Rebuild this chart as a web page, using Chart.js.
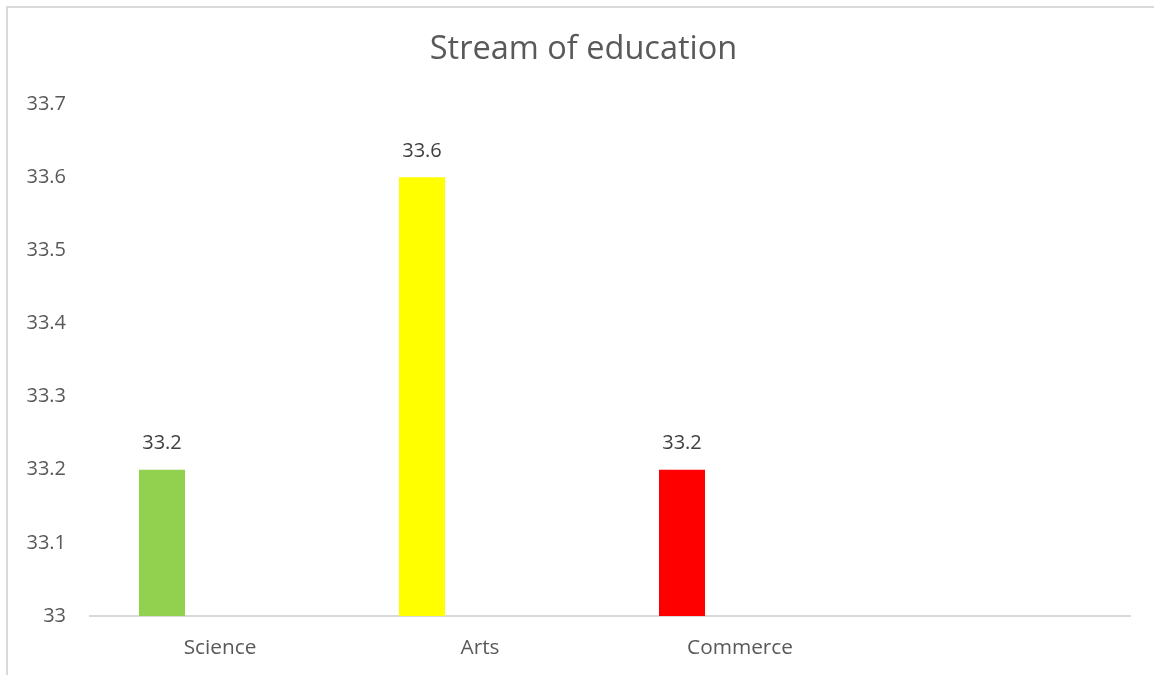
<!DOCTYPE html>
<html>
<head>
<meta charset="utf-8">
<title>Stream of education</title>
<script src="https://cdn.jsdelivr.net/npm/chart.js@4.4.1/dist/chart.umd.min.js"></script>
<style>
  html, body { margin: 0; padding: 0; background: #ffffff; overflow: hidden; }
  #frame {
    position: absolute; left: 6px; top: 6px; width: 1300px; height: 800px;
    border-left: 2px solid #d9d9d9; border-top: 2px solid #d9d9d9;
  }
  #wrap { position: absolute; left: 0; top: 0; width: 1154px; height: 675px; }
</style>
</head>
<body>
<div id="frame"></div>
<div id="wrap"><canvas id="chart" width="1154" height="675"></canvas></div>
<script>
// Streams on the category axis (the fourth slot is an empty category)
const categories = ['Science', 'Arts', 'Commerce', ''];
// Average score per stream
const streamValues = [33.2, 33.6, 33.2, null];
// Second series of the sheet, left blank
const emptySeries = [null, null, null, null];
const barColors = ['#92d050', '#ffff00', '#ff0000', '#ffffff'];
const yTickLabels = ['33', '33.1', '33.2', '33.3', '33.4', '33.5', '33.6', '33.7'];
const chartTitle = 'Stream of education';

const FONT = "'Open Sans', 'Liberation Sans', sans-serif";

// Chart heading, centred over the whole chart frame
const frameTitle = {
  id: 'frameTitle',
  afterDraw(chart) {
    const ctx = chart.ctx;
    ctx.save();
    ctx.font = '32.5px ' + FONT;
    ctx.fillStyle = '#595959';
    ctx.textAlign = 'center';
    ctx.textBaseline = 'middle';
    ctx.fillText(chartTitle, 583.5, 50);
    ctx.restore();
  }
};

// Writes each bar's value just above the bar
const valueLabels = {
  id: 'valueLabels',
  afterDatasetsDraw(chart) {
    const ctx = chart.ctx;
    const meta = chart.getDatasetMeta(0);
    ctx.save();
    ctx.font = '20px ' + FONT;
    ctx.fillStyle = '#404040';
    ctx.textAlign = 'center';
    ctx.textBaseline = 'middle';
    meta.data.forEach((bar, i) => {
      const v = streamValues[i];
      if (v === null || v === undefined) return;
      ctx.fillText(String(v), bar.x, bar.y - 26);
    });
    ctx.restore();
  }
};

new Chart(document.getElementById('chart'), {
  type: 'bar',
  data: {
    labels: categories,
    datasets: [
      {
        label: 'Series1',
        data: streamValues,
        backgroundColor: barColors,
        borderWidth: 0,
        categoryPercentage: 0.892,
        barPercentage: 0.397
      },
      {
        label: 'Series2',
        data: emptySeries,
        backgroundColor: '#a5a5a5',
        borderWidth: 0,
        categoryPercentage: 0.892,
        barPercentage: 0.397
      }
    ]
  },
  options: {
    responsive: false,
    animation: false,
    layout: { padding: { left: 0, right: 24, top: 104, bottom: 0 } },
    plugins: {
      legend: { display: false },
      tooltip: { enabled: false },
      title: { display: false }
    },
    scales: {
      x: {
        grid: { display: false, drawTicks: false },
        border: { display: true, color: '#d9d9d9', width: 2 },
        ticks: {
          color: '#595959',
          font: { family: FONT, size: 20.8 },
          padding: 20,
          maxRotation: 0,
          autoSkip: false
        },
        afterFit(scale) { scale.height = 675 - 616; }
      },
      y: {
        min: 33,
        max: 33.7,
        grid: { display: false, drawTicks: false },
        border: { display: false },
        ticks: {
          stepSize: 0.1,
          color: '#595959',
          font: { family: FONT, size: 20 },
          padding: 24,
          callback: (value, index) => yTickLabels[index]
        },
        afterFit(scale) { scale.width = 90; }
      }
    }
  },
  plugins: [valueLabels, frameTitle]
});
</script>
</body>
</html>
